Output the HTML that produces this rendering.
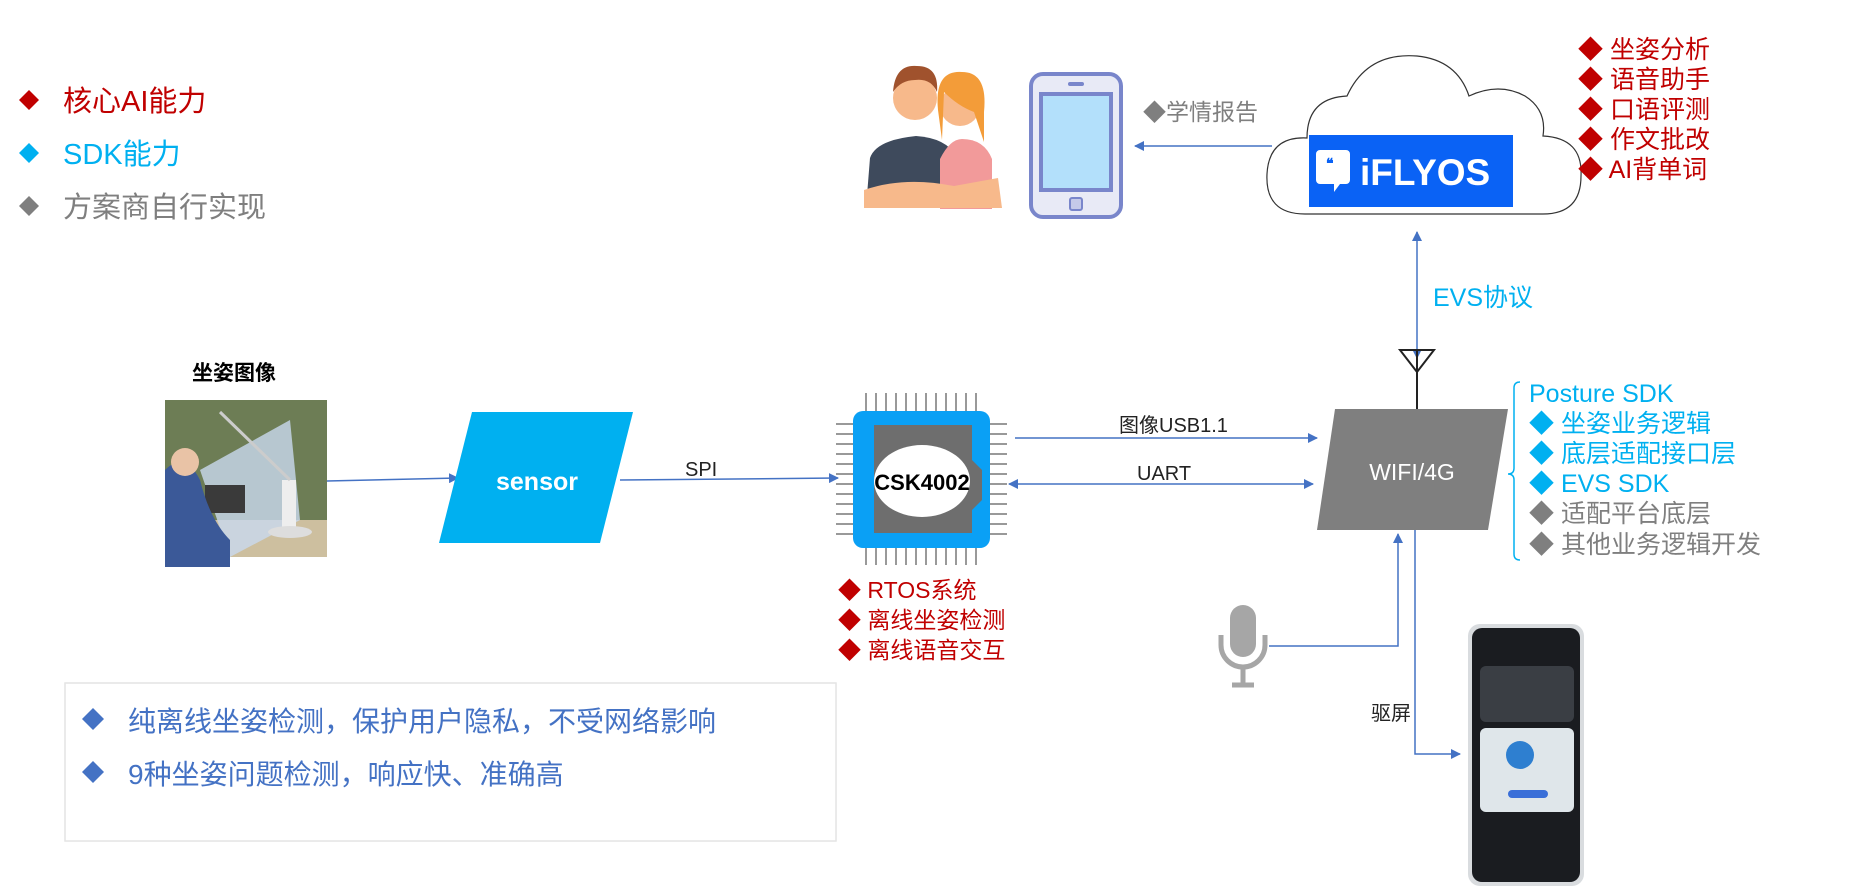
<!DOCTYPE html>
<html><head><meta charset="utf-8"><style>
html,body{margin:0;padding:0;background:#fff;}
svg{display:block;font-family:"Liberation Sans","Noto Sans CJK SC",sans-serif;}
</style></head><body>
<svg width="1867" height="889" viewBox="0 0 1867 889" xmlns="http://www.w3.org/2000/svg">
<defs>
<marker id="a" markerWidth="10" markerHeight="10" refX="9" refY="5" orient="auto" markerUnits="userSpaceOnUse"><path d="M0,0 L10,5 L0,10 z" fill="#4472c4"/></marker>
<marker id="as" markerWidth="10" markerHeight="10" refX="1" refY="5" orient="auto" markerUnits="userSpaceOnUse"><path d="M10,0 L0,5 L10,10 z" fill="#4472c4"/></marker>
</defs>
<!-- legend -->
<g font-size="29">
<path d="M29,90 l10,10 l-10,10 l-10,-10z" fill="#c00000"/><text x="63" y="111" fill="#c00000">核心AI能力</text>
<path d="M29,143 l10,10 l-10,10 l-10,-10z" fill="#00b0f0"/><text x="63" y="164" fill="#00b0f0">SDK能力</text>
<path d="M29,196 l10,10 l-10,10 l-10,-10z" fill="#7f7f7f"/><text x="63" y="217" fill="#7f7f7f">方案商自行实现</text>
</g>
<!-- people -->
<g>
<circle cx="915" cy="98" r="22" fill="#f7b98b"/><path d="M893,92 q2,-28 24,-26 q22,0 20,26 q-6,-14 -22,-12 q-14,0 -22,12z" fill="#a0522d"/>
<path d="M866,208 l4,-50 q6,-18 46,-22 q30,2 40,20 l0,52z" fill="#3e4a5c"/>
<circle cx="960" cy="106" r="20" fill="#f7b98b"/><path d="M938,110 q-4,-40 24,-38 q26,0 22,40 l0,30 l-10,-30 q-16,-6 -30,-20 l-2,48z" fill="#f39c39"/>
<path d="M940,209 l0,-50 q10,-20 22,-20 q22,0 30,20 l0,50z" fill="#f29a9a"/>
<path d="M864,190 q40,-14 90,-4 l44,-8 l4,30 l-138,0z" fill="#f7b98b"/>
</g>
<!-- phone -->
<rect x="1031" y="74" width="90" height="143" rx="12" fill="#e8eaf6" stroke="#7986cb" stroke-width="4"/>
<rect x="1041" y="94" width="70" height="96" fill="#b3e0fb" stroke="#7986cb" stroke-width="4"/>
<rect x="1068" y="82" width="16" height="4" rx="2" fill="#7986cb"/>
<rect x="1070" y="198" width="12" height="12" rx="2" fill="#c5cae9" stroke="#7986cb" stroke-width="2"/>
<text x="1143" y="120" font-size="23" fill="#7f7f7f">◆学情报告</text>
<line x1="1272" y1="146" x2="1135" y2="146" stroke="#4472c4" stroke-width="1.5" marker-end="url(#a)"/>
<!-- cloud -->
<path d="M1305,214 q-40,0 -38,-40 q2,-38 40,-36 q0,-40 40,-42 q20,-44 70,-40 q40,4 52,40 q30,-14 56,0 q22,14 18,40 q40,2 38,40 q0,38 -38,38 z" fill="#fff" stroke="#333" stroke-width="1.2"/>
<rect x="1309" y="135" width="204" height="72" fill="#0a62f5"/>
<path d="M1320,150 h26 a4,4 0 0 1 4,4 v26 a4,4 0 0 1 -4,4 h-6 l-6,8 v-8 h-14 a4,4 0 0 1 -4,-4 v-26 a4,4 0 0 1 4,-4z" fill="#fff"/>
<text x="1326" y="168" font-size="14" font-weight="bold" fill="#0a62f5">❝</text>
<text x="1360" y="185" font-size="37" font-weight="bold" fill="#fff">iFLYOS</text>
<g font-size="25" fill="#c00000">
<text x="1578" y="58">◆ 坐姿分析</text><text x="1578" y="88">◆ 语音助手</text><text x="1578" y="118">◆ 口语评测</text><text x="1578" y="148">◆ 作文批改</text><text x="1578" y="178">◆ AI背单词</text>
</g>
<!-- EVS -->
<line x1="1417" y1="232" x2="1417" y2="358" stroke="#4472c4" stroke-width="1.5" marker-start="url(#as)" marker-end="url(#a)"/>
<text x="1433" y="306" font-size="25" fill="#00b0f0">EVS协议</text>
<path d="M1400,350 L1434,350 L1417,372 z" fill="none" stroke="#222" stroke-width="2"/>
<line x1="1417" y1="350" x2="1417" y2="409" stroke="#222" stroke-width="2"/>
<!-- wifi -->
<path d="M1335,409 L1508,409 L1488,530 L1317,530 z" fill="#7f7f7f"/>
<text x="1412" y="480" font-size="23" fill="#fff" text-anchor="middle">WIFI/4G</text>
<!-- photo -->
<text x="192" y="380" font-size="21" font-weight="bold" fill="#000">坐姿图像</text>
<rect x="165" y="400" width="162" height="157" fill="#6d7d55"/>
<rect x="165" y="520" width="162" height="37" fill="#cdbf9f"/>
<path d="M200,470 L290,420 L300,520 L230,557 z" fill="#c9d9ef" opacity="0.8"/>
<rect x="205" y="485" width="40" height="28" fill="#3a3a3a"/>
<path d="M165,470 q20,-20 35,10 q10,40 30,60 l0,27 l-65,0z" fill="#3b5998"/>
<circle cx="185" cy="462" r="14" fill="#e9c3a6"/>
<rect x="282" y="480" width="14" height="50" fill="#eee"/><ellipse cx="290" cy="532" rx="22" ry="6" fill="#ddd"/>
<line x1="220" y1="412" x2="290" y2="480" stroke="#ccc" stroke-width="3"/>
<line x1="327" y1="481" x2="458" y2="478" stroke="#4472c4" stroke-width="1.5" marker-end="url(#a)"/>
<!-- sensor -->
<path d="M472,412 L633,412 L600,543 L439,543 z" fill="#00b0f0"/>
<text x="537" y="490" font-size="25" font-weight="bold" fill="#fff" text-anchor="middle">sensor</text>
<line x1="620" y1="480" x2="838" y2="478" stroke="#4472c4" stroke-width="1.5" marker-end="url(#a)"/>
<text x="685" y="476" font-size="20" fill="#222">SPI</text>
<!-- chip -->
<g stroke="#999" stroke-width="2">
<path d="M866,393v18M876,393v18M886,393v18M896,393v18M906,393v18M916,393v18M926,393v18M936,393v18M946,393v18M956,393v18M966,393v18M976,393v18"/>
<path d="M866,548v17M876,548v17M886,548v17M896,548v17M906,548v17M916,548v17M926,548v17M936,548v17M946,548v17M956,548v17M966,548v17M976,548v17"/>
<path d="M836,424h17M836,434h17M836,444h17M836,454h17M836,464h17M836,474h17M836,484h17M836,494h17M836,504h17M836,514h17M836,524h17M836,534h17"/>
<path d="M990,424h17M990,434h17M990,444h17M990,454h17M990,464h17M990,474h17M990,484h17M990,494h17M990,504h17M990,514h17M990,524h17M990,534h17"/>
</g>
<rect x="853" y="411" width="137" height="137" rx="10" fill="#0aa0f5"/>
<path d="M874,425 L972,425 L972,460 L982,470 L982,500 L972,510 L972,533 L874,533 z" fill="#6e6e6e"/>
<ellipse cx="922" cy="481" rx="48" ry="36" fill="#fff"/>
<text x="922" y="490" font-size="22" font-weight="bold" fill="#000" text-anchor="middle">CSK4002</text>
<g font-size="23" fill="#c00000">
<text x="838" y="598">◆ RTOS系统</text><text x="838" y="628">◆ 离线坐姿检测</text><text x="838" y="658">◆ 离线语音交互</text>
</g>
<!-- chip<->wifi -->
<line x1="1015" y1="438" x2="1317" y2="438" stroke="#4472c4" stroke-width="1.5" marker-end="url(#a)"/>
<text x="1119" y="432" font-size="20" fill="#222">图像USB1.1</text>
<line x1="1009" y1="484" x2="1313" y2="484" stroke="#4472c4" stroke-width="1.5" marker-start="url(#as)" marker-end="url(#a)"/>
<text x="1137" y="480" font-size="20" fill="#222">UART</text>
<!-- posture sdk -->
<path d="M1520,382 q-6,0 -6,6 v80 q0,6 -6,6 q6,0 6,6 v74 q0,6 6,6" fill="none" stroke="#00b0f0" stroke-width="1.5"/>
<g font-size="25">
<text x="1529" y="402" fill="#00b0f0">Posture SDK</text>
<text x="1529" y="432" fill="#00b0f0">◆ 坐姿业务逻辑</text>
<text x="1529" y="462" fill="#00b0f0">◆ 底层适配接口层</text>
<text x="1529" y="492" fill="#00b0f0">◆ EVS SDK</text>
<text x="1529" y="522" fill="#7f7f7f">◆ 适配平台底层</text>
<text x="1529" y="553" fill="#7f7f7f">◆ 其他业务逻辑开发</text>
</g>
<!-- mic -->
<rect x="1230" y="605" width="26" height="52" rx="13" fill="#a6a6a6"/>
<path d="M1221,635 v10 a22,22 0 0 0 44,0 v-10" fill="none" stroke="#a6a6a6" stroke-width="5"/>
<line x1="1243" y1="667" x2="1243" y2="683" stroke="#a6a6a6" stroke-width="5"/>
<line x1="1232" y1="685" x2="1254" y2="685" stroke="#a6a6a6" stroke-width="5"/>
<polyline points="1269,646 1398,646 1398,534" fill="none" stroke="#4472c4" stroke-width="1.5" marker-end="url(#a)"/>
<polyline points="1415,530 1415,754 1460,754" fill="none" stroke="#4472c4" stroke-width="1.5" marker-end="url(#a)"/>
<text x="1371" y="720" font-size="20" fill="#222">驱屏</text>
<!-- device -->
<rect x="1468" y="624" width="116" height="262" rx="12" fill="#d9dcdf"/>
<rect x="1472" y="628" width="108" height="254" rx="10" fill="#1a1c20"/>
<rect x="1480" y="666" width="94" height="56" rx="6" fill="#3a3e44"/>
<rect x="1480" y="728" width="94" height="84" rx="6" fill="#dfe6ea"/>
<circle cx="1520" cy="755" r="14" fill="#2e7fd0"/>
<rect x="1508" y="790" width="40" height="8" rx="4" fill="#3a6fd8"/>
<!-- bottom box -->
<rect x="65" y="683" width="771" height="158" fill="#fff" stroke="#e4e4e4" stroke-width="1.5"/>
<g font-size="28" fill="#4472c4">
<path d="M93,708 l11,11 l-11,11 l-11,-11z"/><text x="128" y="731">纯离线坐姿检测，保护用户隐私，不受网络影响</text>
<path d="M93,761 l11,11 l-11,11 l-11,-11z"/><text x="128" y="784">9种坐姿问题检测，响应快、准确高</text>
</g>
</svg>
</body></html>
